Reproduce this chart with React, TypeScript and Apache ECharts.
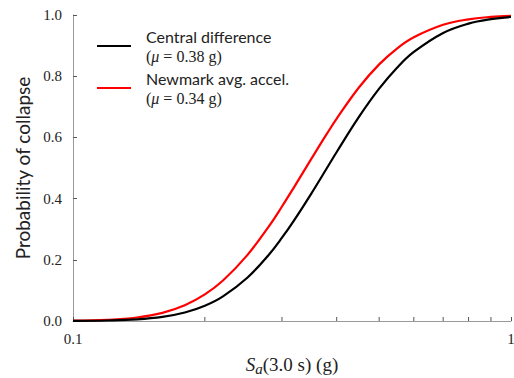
import React, { useEffect, useRef } from "react";
import * as echarts from "echarts";

const xValues = [0.1, 0.12, 0.14, 0.16, 0.18, 0.2, 0.22, 0.25, 0.28, 0.3, 0.32, 0.35, 0.38, 0.4, 0.45, 0.5, 0.55, 0.6, 0.7, 0.8, 0.9, 1.0];
const centralDiff = [0.0003, 0.0016, 0.0052, 0.0133, 0.0277, 0.0499, 0.0806, 0.1415, 0.2168, 0.2722, 0.3298, 0.4165, 0.5, 0.5523, 0.6677, 0.7592, 0.8285, 0.8792, 0.9413, 0.9719, 0.9865, 0.9935];
const newmark = [0.0009, 0.0038, 0.0115, 0.0266, 0.0515, 0.0868, 0.1322, 0.2153, 0.3093, 0.3741, 0.4384, 0.5297, 0.6122, 0.6615, 0.7638, 0.8387, 0.8913, 0.9273, 0.968, 0.9859, 0.9937, 0.9972];
const minorTicks = [0.2, 0.3, 0.4, 0.5, 0.6, 0.7, 0.8, 0.9];
const seriesNames = ["Central difference", "Newmark avg. accel."];
const medians = ["0.38", "0.34"];

const SERIF = "'Liberation Serif', 'DejaVu Serif', serif";
const SANS = "Lato, 'Open Sans', sans-serif";
const AXIS_GRAY = "#9a9a9a";
const TEXT = "#222";

export default function App() {
  const ref = useRef<HTMLDivElement>(null);
  useEffect(() => {
    if (!ref.current) return;
    const chart = echarts.init(ref.current, null, { renderer: "svg" });
    const option: any = {
      animation: false,
      backgroundColor: "#fff",
      grid: { left: 73, right: 3, top: 15, bottom: 57, outerBoundsMode: "none", containLabel: false },
      legend: {
        data: seriesNames,
        orient: "vertical",
        left: 92,
        top: 23,
        itemWidth: 34,
        itemHeight: 2,
        itemGap: 6,
        icon: "rect",
        formatter: (name: string) => {
          const i = seriesNames.indexOf(name);
          return `{n|${name}}\n{p|(}{m|μ}{p| = ${medians[i]} g)}`;
        },
        textStyle: {
          color: TEXT,
          padding: [0, 0, 0, 10],
          rich: {
            n: { fontFamily: SANS, fontSize: 16, color: TEXT, lineHeight: 20 },
            p: { fontFamily: SERIF, fontSize: 16, color: TEXT, lineHeight: 20 },
            m: { fontFamily: SERIF, fontSize: 16, fontStyle: "italic", color: TEXT, lineHeight: 20 },
          },
        },
      },
      xAxis: {
        type: "log",
        logBase: 10,
        min: 0.1,
        max: 1,
        name: "{i|S}{s|a}{r|(3.0 s) (g)}",
        nameLocation: "middle",
        nameGap: 34,
        nameTextStyle: {
          rich: {
            i: { fontFamily: SERIF, fontSize: 19, fontStyle: "italic", color: TEXT, verticalAlign: "top", padding: [0, 0, 2, 0] },
            s: { fontFamily: SERIF, fontSize: 15, fontStyle: "italic", color: TEXT, verticalAlign: "bottom" },
            r: { fontFamily: SERIF, fontSize: 19, color: TEXT, verticalAlign: "top", padding: [0, 0, 2, 0] },
          },
        },
        axisLine: { lineStyle: { color: AXIS_GRAY, width: 1 } },
        axisTick: { inside: true, length: 4, lineStyle: { color: "#555" } },
        axisLabel: {
          fontFamily: SERIF,
          fontSize: 15,
          color: TEXT,
          margin: 10,
          formatter: (v: number) => (v < 0.5 ? "0.1" : "1"),
        },
        splitLine: { show: false },
        minorTick: { show: false },
      },
      yAxis: {
        type: "value",
        min: 0,
        max: 1,
        interval: 0.2,
        name: "Probability of collapse",
        nameLocation: "middle",
        nameGap: 40,
        nameTextStyle: { fontFamily: SANS, fontSize: 19, color: TEXT },
        axisLine: { show: true, lineStyle: { color: AXIS_GRAY, width: 1 } },
        axisTick: { show: true, inside: true, length: 4, lineStyle: { color: "#555" } },
        axisLabel: {
          fontFamily: SERIF,
          fontSize: 15,
          color: TEXT,
          margin: 11,
          formatter: (v: number) => v.toFixed(1),
        },
        splitLine: { show: false },
      },
      series: [
        {
          name: seriesNames[0],
          type: "line",
          data: xValues.map((x, i) => [x, centralDiff[i]]),
          smooth: 0.4,
          showSymbol: false,
          symbol: "none",
          lineStyle: { color: "#000", width: 2.2 },
          itemStyle: { color: "#000" },
          z: 3,
        },
        {
          name: seriesNames[1],
          type: "line",
          data: xValues.map((x, i) => [x, newmark[i]]),
          smooth: 0.4,
          showSymbol: false,
          symbol: "none",
          lineStyle: { color: "#ff0000", width: 2.2 },
          itemStyle: { color: "#ff0000" },
          z: 2,
        },
        {
          name: "minorTicks",
          type: "custom",
          silent: true,
          data: minorTicks.map((x) => [x, 0]),
          renderItem: (params: any, api: any) => {
            const p = api.coord([api.value(0), api.value(1)]);
            return {
              type: "line",
              shape: { x1: p[0], y1: p[1], x2: p[0], y2: p[1] - 4 },
              style: { stroke: "#555", lineWidth: 1 },
            };
          },
          z: 1,
        },
      ],
    };
    chart.setOption(option);
    return () => chart.dispose();
  }, []);
  return (
    <div
      ref={ref}
      style={{ position: "absolute", left: 0, top: 0, width: 514, height: 378 }}
    />
  );
}
